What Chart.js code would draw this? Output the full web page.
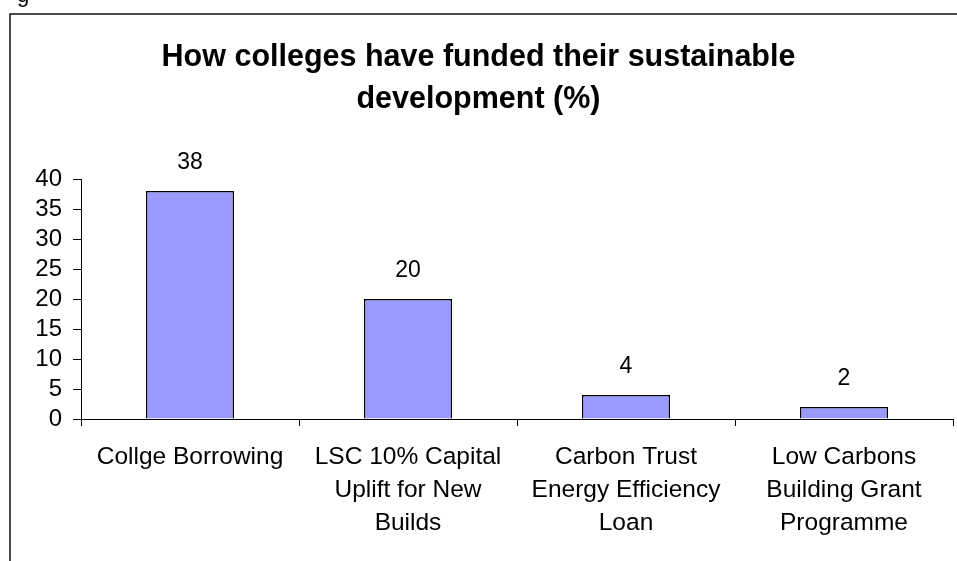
<!DOCTYPE html>
<html>
<head>
<meta charset="utf-8">
<script src="https://cdn.jsdelivr.net/npm/chart.js@4"></script>
<style>
    body { margin: 0; background: #fff; }
    #wrap { width: 957px; height: 561px; position: relative; }
</style>
</head>
<body>
<div id="wrap"><canvas id="fundChart"></canvas></div>
<script>
// 数据
const categories = [
    'Collge Borrowing',
    ['LSC 10% Capital', 'Uplift for New', 'Builds'],
    ['Carbon Trust', 'Energy Efficiency', 'Loan'],
    ['Low Carbons', 'Building Grant', 'Programme']
];
const percentages = [38, 20, 4, 2];
const titleLines = ['How colleges have funded their sustainable', 'development (%)'];
const yTicks = { min: 0, max: 40, step: 5 };

const FONT = "'Liberation Sans', Arial, sans-serif";

// 外框和左上角残字
const framePlugin = {
    id: 'frame',
    beforeDraw(chart) {
        const ctx = chart.ctx;
        ctx.save();
        ctx.fillStyle = '#fff';
        ctx.fillRect(0, 0, chart.width, chart.height);
        ctx.strokeStyle = '#111';
        ctx.lineWidth = 1.5;
        ctx.strokeRect(10, 14, 1000, 600);
        ctx.fillStyle = '#000';
        ctx.font = '22px ' + FONT;
        ctx.textBaseline = 'alphabetic';
        ctx.fillText('g', 17, 2);
        ctx.restore();
    }
};

// 柱顶数值
const valueLabels = {
    id: 'valueLabels',
    afterDatasetsDraw(chart) {
        const ctx = chart.ctx;
        const meta = chart.getDatasetMeta(0);
        ctx.save();
        ctx.fillStyle = '#000';
        ctx.font = '23px ' + FONT;
        ctx.textAlign = 'center';
        ctx.textBaseline = 'middle';
        meta.data.forEach((bar, i) => {
            ctx.fillText(String(percentages[i]), bar.x, bar.y - 28);
        });
        ctx.restore();
    }
};

new Chart(document.getElementById('fundChart'), {
    type: 'bar',
    data: {
        labels: categories,
        datasets: [{
            data: percentages,
            backgroundColor: '#9999ff',
            borderColor: '#000',
            borderWidth: 1.5,
            barPercentage: 0.404,
            categoryPercentage: 1
        }]
    },
    options: {
        responsive: true,
        maintainAspectRatio: false,
        animation: false,
        layout: { padding: { left: 4, right: 4, top: 0, bottom: 0 } },
        plugins: {
            legend: { display: false },
            tooltip: { enabled: false },
            title: {
                display: true,
                text: titleLines,
                color: '#000',
                font: { family: FONT, size: 30.5, weight: 'bold', lineHeight: 42 / 30.5 },
                padding: { top: 37, bottom: 58 }
            }
        },
        scales: {
            x: {
                grid: { display: true, drawOnChartArea: false, drawTicks: true, tickLength: 7, color: '#000', offset: true },
                border: { display: true, color: '#000', width: 1 },
                ticks: {
                    color: '#000',
                    font: { family: FONT, size: 24.5, lineHeight: 33 / 24.5 },
                    padding: 14.5,
                    maxRotation: 0,
                    autoSkip: false
                },
                afterFit(scale) { scale.height = 142; }
            },
            y: {
                min: yTicks.min,
                max: yTicks.max,
                grid: { display: true, drawOnChartArea: false, drawTicks: true, tickLength: 8, color: '#000' },
                border: { display: true, color: '#000', width: 1 },
                ticks: {
                    stepSize: yTicks.step,
                    autoSkip: false,
                    color: '#000',
                    font: { family: FONT, size: 24 },
                    padding: 11
                },
                afterFit(scale) { scale.width = 77; }
            }
        }
    },
    plugins: [framePlugin, valueLabels]
});
</script>
</body>
</html>
